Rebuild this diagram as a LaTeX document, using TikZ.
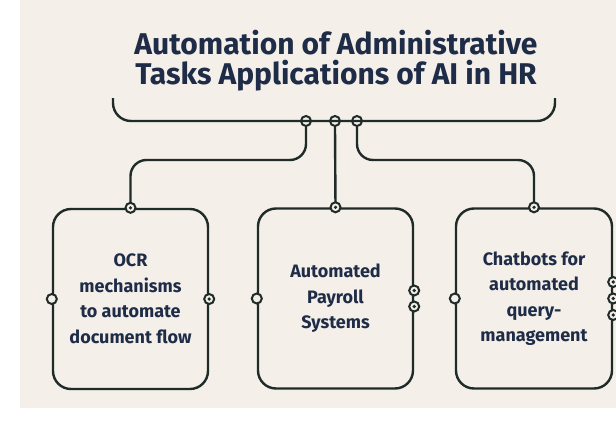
\documentclass[tikz,border=0pt]{standalone}
\usepackage{fontspec}
\setmainfont{Fira Sans}
\usetikzlibrary{positioning}
\definecolor{fond}{HTML}{F4EFE8}
\definecolor{trait}{HTML}{1F2B29}
\definecolor{encre}{HTML}{1E2C47}
\tikzset{
lien/.style={draw=trait,line width=2.4pt,rounded corners=16pt},
boite/.style={lien,minimum width=155pt,minimum height=180pt,rounded corners=18pt,
  text=encre,font=\bfseries\fontsize{18}{25.5}\selectfont,align=center},
bague/.style={circle,draw=trait,line width=2pt,inner sep=0pt,minimum size=10pt},
anneau/.style={bague,fill=fond},
point/.style={anneau,path picture={\fill[trait] (path picture bounding box.center) circle (1.8pt);}}
}
\begin{document}
\begin{tikzpicture}[x=1pt,y=-1pt]
\useasboundingbox (0,0) rectangle (616,423);
\fill[white] (0,0) rectangle (616,423);
\fill[fond] (20,0) rectangle (616,408);

%le titre
\node [text=encre,font=\bfseries\fontsize{30}{30}\selectfont,align=center] (titre) at (336,61)
  {Automation of Administrative\\Tasks Applications of AI in HR};
\draw [lien,rounded corners=18pt] (113,98) |- (555,121) -- (555,98);
\node [bague] (c1) at (306,121) {};
\node [bague] (c2) at (335,121) {};
\node [bague] (c3) at (357,121) {};
\coordinate (h) at (0,160);

%les boites
\node [boite] (b1) at (130.5,299) {OCR\\mechanisms\\to automate\\document flow};
\node [boite] (b2) at (335.5,298.5) {Automated\\Payroll\\Systems};
\node [boite,minimum width=156pt] (b3) at (534,298.5) {Chatbots for\\automated\\query-\\management};

\draw [lien] (c1.south) -- (c1 |- h) -| (b1.north);
\draw [lien] (c2.south) -- (b2.north);
\draw [lien] (c3.south) -- (c3 |- h) -| (b3.north);

\node [point] (h1) at (b1.north) {};
\node [point] (h2) at (b2.north) {};
\node [point] (h3) at (b3.north) {};
\node [anneau] (g1) at (b1.west) {};
\node [anneau] (g2) at (b2.west) {};
\node [anneau] (g3) at (b3.west) {};
\node [point] (d1) at (b1.east) {};
\node [point] (d2a) at ([yshift=-8pt]b2.east) {};
\node [point] (d2b) at ([yshift=8pt]b2.east) {};
\node [point] (d3a) at ([yshift=-16.5pt]b3.east) {};
\node [point] (d3b) at (b3.east) {};
\node [point] (d3c) at ([yshift=16.5pt]b3.east) {};
\end{tikzpicture}
\end{document}
